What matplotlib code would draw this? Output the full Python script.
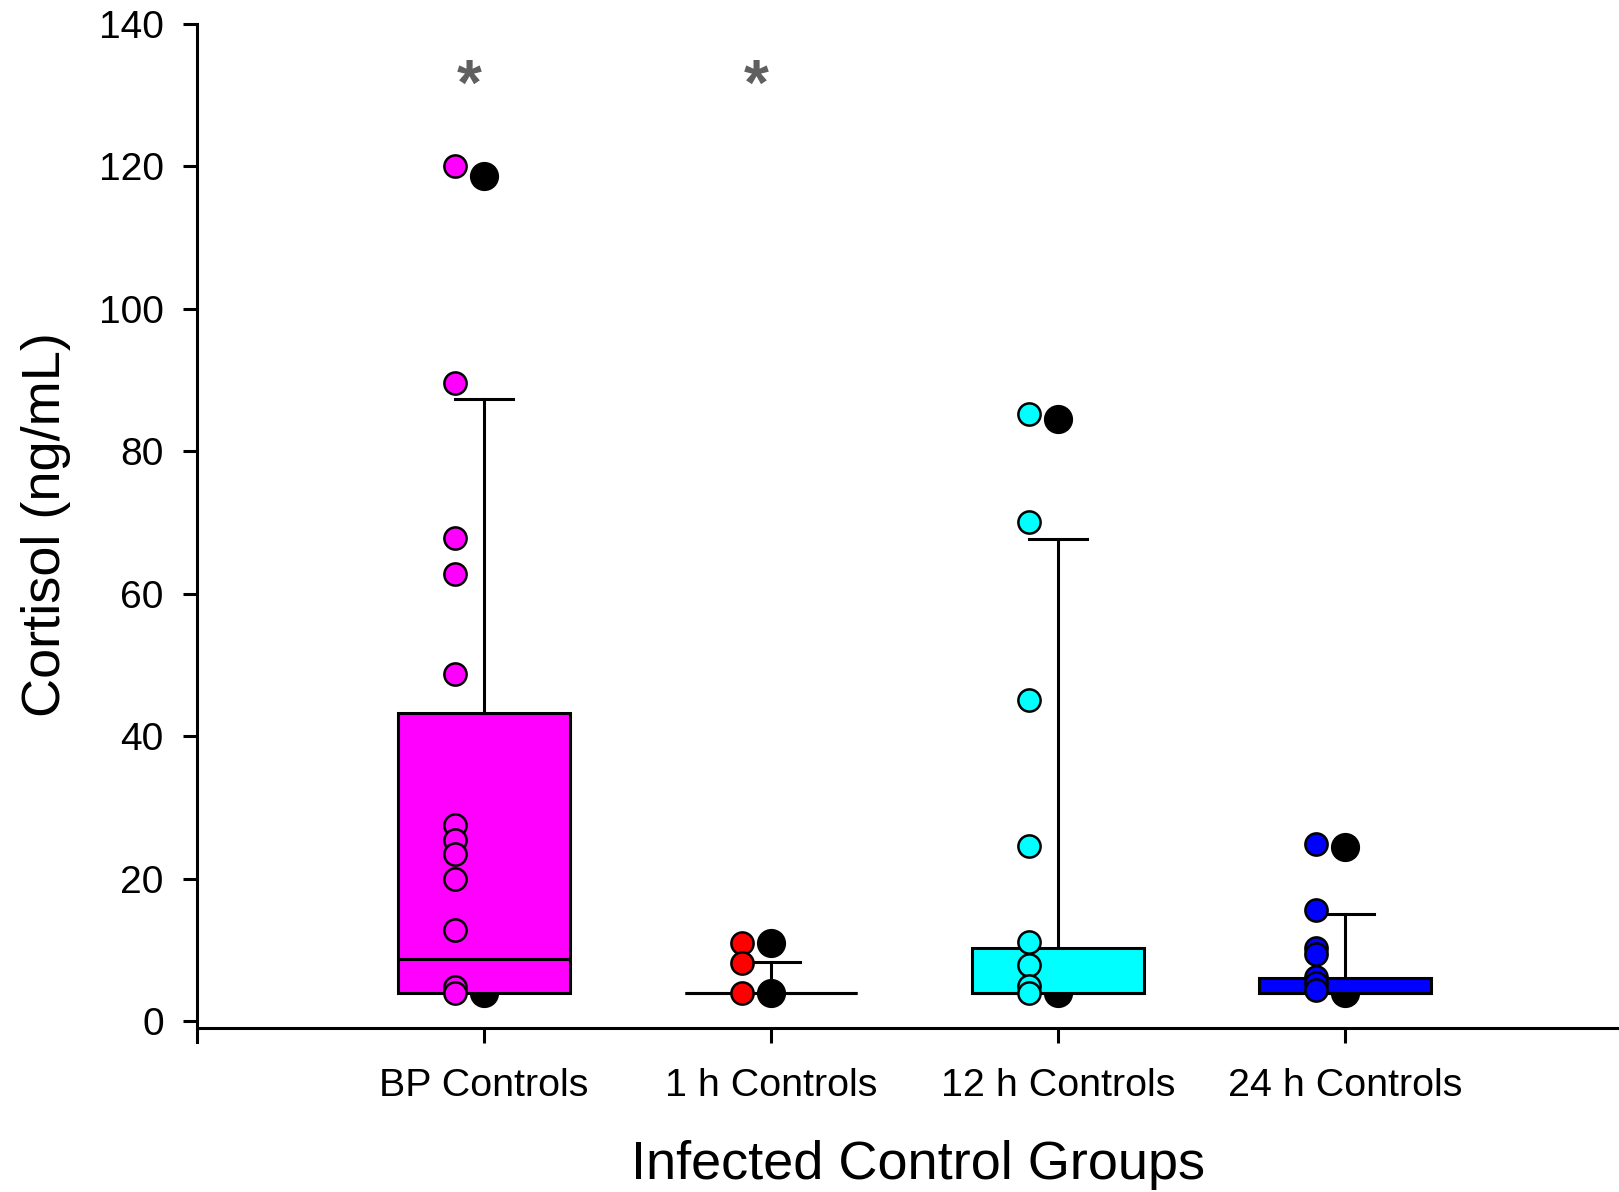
import numpy as np
import matplotlib
matplotlib.use("Agg")
from matplotlib import pyplot as plt

plt.rcParams["font.family"] = ["Liberation Sans", "DejaVu Sans"]

# groups and colours
groups = ["BP Controls", "1 h Controls", "12 h Controls", "24 h Controls"]
colors = ["#FF00FF", "#FF0000", "#00FFFF", "#0000FF"]

# individual cortisol values (ng/mL)
bp_pts = [120.1, 89.6, 67.8, 62.8, 48.7, 27.5, 25.4, 23.5, 19.9, 12.8, 4.8, 3.9]
h1_pts = [11.0, 8.1, 3.9]
h12_pts = [85.2, 70.1, 45.1, 24.6, 11.1, 7.9, 4.9, 3.9]
h24_pts = [24.9, 15.6, 10.2, 9.4, 6.2, 5.4, 4.4]
points = [bp_pts, h1_pts, h12_pts, h24_pts]

# box summary
q1 = [3.9, 3.9, 3.9, 3.9]
med = [8.7, 3.9, 3.9, 3.9]
q3 = [43.3, 3.9, 10.3, 6.0]
whis_hi = [87.4, 8.3, 67.7, 15.0]

# extreme values (black dots)
extremes = [[118.6, 3.9], [11.0, 3.9], [84.5, 3.9], [24.5, 3.9]]

# significance marks
star_groups = [0, 1]
star_y = 131

positions = np.arange(1, len(groups) + 1)

fig = plt.figure(figsize=(16.19, 11.92), dpi=100)
ax = fig.add_axes([197 / 1619, 1 - 1042.4 / 1192, 1 - 197 / 1619, (1042.4 - 24) / 1192])

stats = []
for i in range(len(groups)):
    stats.append(dict(med=med[i], q1=q1[i], q3=q3[i], whislo=q1[i], whishi=whis_hi[i], fliers=[]))

lw = 2.2
bp = ax.bxp(stats, positions=positions, widths=0.6, patch_artist=True, showfliers=False,
            capwidths=0.2,
            boxprops=dict(linewidth=lw, edgecolor="black"),
            whiskerprops=dict(linewidth=lw, color="black"),
            capprops=dict(linewidth=lw, color="black"),
            medianprops=dict(linewidth=lw, color="black"))
for patch, c in zip(bp["boxes"], colors):
    patch.set_facecolor(c)
    patch.set_zorder(2)
for cap in bp["caps"][0::2]:
    cap.set_visible(False)

# black extreme dots: behind the box unless the box is flat
for i, ext in enumerate(extremes):
    z = 4 if q3[i] == q1[i] else 1.5
    ax.scatter([positions[i]] * len(ext), ext, s=20 ** 2, color="black", zorder=z)

# individual points, shifted left of the box centre
for i, pts in enumerate(points):
    ax.scatter([positions[i] - 0.1] * len(pts), pts, s=16 ** 2, facecolor=colors[i],
               edgecolor="black", linewidth=1.8, zorder=5)

for g in star_groups:
    ax.text(positions[g] - 0.05, star_y, "*", fontsize=46, fontweight="bold",
            color="#606060", ha="center", va="center")

ax.set_xlim(0, 4.955)
ax.set_ylim(-3, 140)
ax.set_yticks(np.arange(0, 141, 20))
ax.set_xticks(positions)
ax.set_xticklabels(groups)

ax.spines["top"].set_visible(False)
ax.spines["right"].set_visible(False)
ax.spines["bottom"].set_position(("data", -1))
for s in ["left", "bottom"]:
    ax.spines[s].set_linewidth(lw)

ax.tick_params(axis="x", direction="out", length=10.8, width=lw, labelsize=28.4, pad=18)
ax.tick_params(axis="y", direction="out", length=10, width=lw, labelsize=28, pad=14)

ax.set_xlabel("Infected Control Groups", fontsize=39, labelpad=26, x=0.507)
ax.set_ylabel("Cortisol (ng/mL)", fontsize=39, labelpad=20, y=0.508)

fig.savefig("out.png", dpi=100)
